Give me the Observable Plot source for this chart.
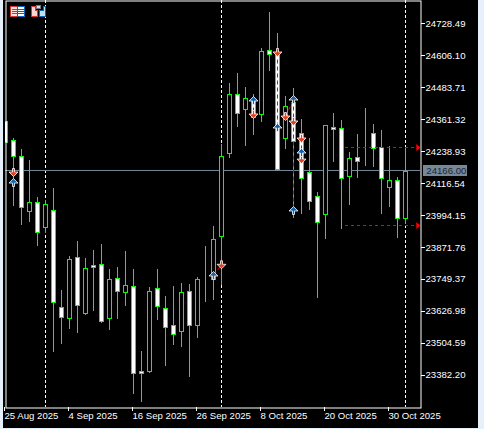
<!DOCTYPE html>
<html><head><meta charset="utf-8">
<script src="https://cdn.jsdelivr.net/npm/d3@7"></script>
<script src="https://cdn.jsdelivr.net/npm/@observablehq/plot@0.6"></script>
<style>
html,body{margin:0;padding:0;background:#000;width:484px;height:429px;overflow:hidden}
#chart{position:absolute;left:0;top:0}
#chart svg{display:block}
.strip{position:absolute;background:#e6f0fb}
#icons{position:absolute;left:0;top:0}
</style></head><body>
<div id="chart"></div>
<div class="strip" style="left:0;top:0;width:3px;height:429px"></div>
<div class="strip" style="left:478px;top:0;width:6px;height:429px"></div>
<div class="strip" style="left:0;top:428px;width:484px;height:1px"></div>
<svg id="icons" width="60" height="20" shape-rendering="crispEdges">
<rect x="10.5" y="6.5" width="7" height="10" fill="#fbe0db" stroke="#d9332a"/>
<rect x="17.5" y="6.5" width="7" height="10" fill="#fff" stroke="#0b66b3"/>
<path d="M12 9.5h5M12 11.5h5M12 13.5h5" stroke="#d9332a"/><path d="M18 9.5h6M18 11.5h6M18 13.5h6" stroke="#0b66b3"/>
<path d="M31.5 6.5h4v4h2v6h-6z" fill="#fbd5cf" stroke="#d9332a"/>
<path d="M45.5 6.5h-2v4h-4v6h6z" fill="#bfe0f6" stroke="#0b66b3"/>
<rect x="36.5" y="5.5" width="4" height="3" fill="#ddd" stroke="#777"/>
</svg>
<script>
const opens=[24356.9,24284.1,24222.8,24012.1,24046.6,23950.8,24016,23644.4,23602.2,23835.9,23621.4,23805.3,23809.1,23602.2,23755.5,23701.8,23724.8,23399.2,23399.2,23717.2,23640.5,23575.4,23552.4,23705.7,23575.4,23747.8,23751.6,23916.4,24234.3,24460.3,24402.9,24437.3,24383.7,24628.9,24621.2,24291.8,24429.7,24310.9,24161.5,24069.6,24000.6,24333.9,24330.1,24146.2,24219,24314.7,24310.9,24257.3,24104.1,24130.9,23985.3];
const highs=[24356.9,24291.8,24249.6,24207.5,24065.8,24054.3,24100.2,23709.5,23839.8,23897.2,23832.1,23862.7,23885.7,23789.9,23797.6,23858.9,23789.9,23475.8,23721,23789.9,23686.5,23724.8,23736.3,23732.5,23759.3,23878.1,23954.7,24268.8,24502.5,24540.8,24487.1,24460.3,24636.5,24774.4,24694,24452.7,24483.3,24364.5,24291.8,24084.9,24341.6,24387.5,24360.7,24238.1,24307.1,24406.7,24345.4,24322.4,24261.1,24142.4,24257.3];
const lows=[24276.4,24031.3,23958.5,23970,23878.1,23927.8,23472,23502.6,23560.1,23544.8,23613.7,23629,23583.1,23556.3,23598.4,23648.2,23311.1,23280.4,23391.5,23594.6,23418.4,23498.8,23491.1,23376.3,23525.6,23663.5,23671.2,23728.7,24215.1,24333.9,24261.1,24303.3,24353,24548.4,24165.3,24249.6,23985.3,24000.6,24016,23678.8,23904.9,24199.8,23943.2,24035.1,24138.5,24184.5,24180.7,24000.6,24027.4,23908.7,23962.3];
const closes=[24276.4,24222.8,24027.4,24046.6,23931.7,24038.9,23663.5,23606,23828.2,23652,23793.8,23797.6,23590.7,23751.6,23705.7,23728.7,23391.5,23391.5,23705.7,23648.2,23567.7,23540.9,23701.8,23575.4,23751.6,23747.8,23904.9,24222.8,24460.3,24387.5,24445,24372.2,24625,24613.5,24173,24414.3,24280.3,24138.5,24050.4,23970,24341.6,24326.2,24138.5,24215.1,24203.6,24314.7,24253.5,24138.5,24130.9,23985.3,24165.3];

const sellIndex=[1,27,31,34,35,36,37,37];
const sellPrice=[24161.5,23808,24383.7,24621.2,24376,24356.9,24291.8,24211];
const buyIndex=[1,26,31,34,36,36,37];
const buyPrice=[24123,23767,24437.3,24333.9,24441,24016,24238.1];

const linkX1=[31,34,36,37,35,1,26];
const linkY1=[24437.3,24621.2,24441,24291.8,24376,24161.5,23767];
const linkX2=[31,34,36,37,36,1,27];
const linkY2=[24383.7,24333.9,24016,24211,24441,24123,23808];

const stopY=[24257.3,23958.5];
const stopStart=42.5, stopEnd=51.4, stopArrow=51.6;

const separators=[5,27,50];
const lastPrice=24166;
const priceTicks=[24728.49,24606.10,24483.71,24361.32,24238.93,24116.54,23994.15,23871.76,23749.37,23626.98,23504.59,23382.20];
const dateIdx=[0,8,16,24,32,40,48];
const dateLabels=["25 Aug 2025","4 Sep 2025","16 Sep 2025","26 Sep 2025","8 Oct 2025","20 Oct 2025","30 Oct 2025"];

const candles=opens.map((o,i)=>({i,o,h:highs[i],l:lows[i],c:closes[i]}));
const bear=candles.filter(d=>d.o>=d.c), bull=candles.filter(d=>d.o<d.c);
const poly=pts=>({draw(ctx){pts.forEach(([x,y],k)=>k?ctx.lineTo(x,y):ctx.moveTo(x,y));ctx.closePath();}});
const down=poly([[-1,-4],[1,-4],[1,-.5],[4.5,-.5],[0,4],[-4.5,-.5],[-1,-.5]]);
const up=poly([[-1,4],[1,4],[1,.5],[4.5,.5],[0,-4],[-4.5,.5],[-1,.5]]);
const tri=poly([[-2,-3.5],[2,0],[-2,3.5]]);
const FONT="'Liberation Sans',Arial,sans-serif";
const body=(data,fill)=>Plot.rect(data,{x1:d=>d.i-.25,x2:d=>d.i+.25,y1:"o",y2:"c",fill,stroke:"#00ff00",dx:.5,dy:.5,clip:"frame"});

const plot=Plot.plot({
  width:484,height:429,marginLeft:5,marginRight:64,marginTop:0,marginBottom:22,
  style:{background:"#000",fontFamily:FONT,fontSize:"9.6px"},
  x:{domain:[0,50],range:[5,405],axis:null},
  y:{domain:[24820.4,23261.3],range:[0,407],axis:null},
  marks:[
    Plot.ruleX(separators,{stroke:"#fff",strokeDasharray:"3,2",y1:24820.4,y2:23261.3}),
    Plot.ruleY([lastPrice],{stroke:"#778899",dy:-.85}),
    Plot.rect(candles,{x1:d=>d.i,x2:d=>d.i+.125,y1:"h",y2:"l",fill:"#00ff00",clip:"frame"}),
    body(bear,"#fff"),
    body(bull,"#000"),
    Plot.link(linkX1,{x1:(d,i)=>linkX1[i],y1:(d,i)=>linkY1[i],x2:(d,i)=>linkX2[i],y2:(d,i)=>linkY2[i],stroke:"#ff0000",strokeDasharray:"4,3"}),
    Plot.ruleY(stopY,{x1:stopStart,x2:stopEnd,stroke:"#ff0000",strokeDasharray:"3,3"}),
    Plot.dot(stopY,{x:stopArrow,y:d=>d,symbol:tri,r:4,fill:"#ff0000",stroke:"none"}),
    Plot.dot(sellIndex,{x:d=>d,y:(d,i)=>sellPrice[i],symbol:down,r:4,fill:"#e8401c",stroke:"#fff",strokeWidth:.8}),
    Plot.dot(buyIndex,{x:d=>d,y:(d,i)=>buyPrice[i],symbol:up,r:4,fill:"#1464ae",stroke:"#fff",strokeWidth:.8}),
    Plot.frame({stroke:"#fff",dx:.5,dy:.5}),
    Plot.axisX({ticks:dateIdx,tickFormat:d=>dateLabels[dateIdx.indexOf(d)],anchor:"bottom",tickSize:4,tickPadding:1,textAnchor:"start",dx:-1,stroke:"#fff",fill:"#fff",fontSize:9.6,label:null}),
    Plot.axisY({ticks:priceTicks,tickFormat:d=>d.toFixed(2),anchor:"right",tickSize:4,tickPadding:1,stroke:"#fff",fill:"#fff",fontSize:9.6,label:null,dy:-.7,shapeRendering:"crispEdges"}),
    Plot.rect([lastPrice],{x1:52.25,x2:57.75,y1:24820.4-3.8307*165,y2:24820.4-3.8307*176,fill:"#778899",clip:false}),
    Plot.text([lastPrice],{x:52.6,y:d=>d,dy:-.7,text:d=>d.toFixed(2),fill:"#1c2630",textAnchor:"start",fontSize:9.6,clip:false})
  ]
});
document.getElementById("chart").append(plot);
</script>
</body></html>
